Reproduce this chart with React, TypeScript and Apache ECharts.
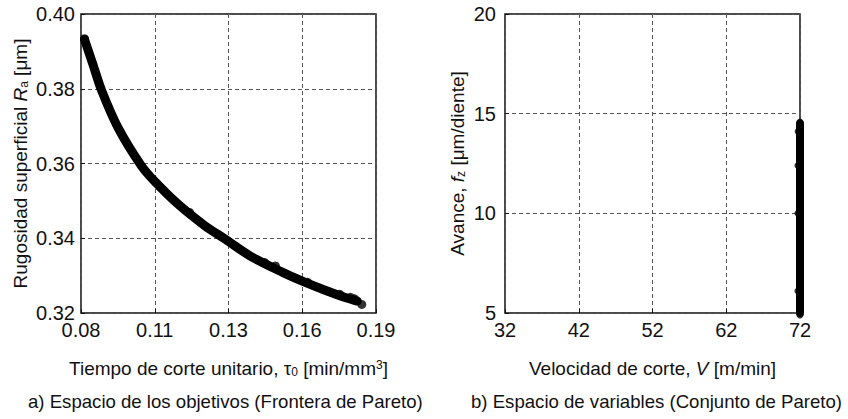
import React, { useEffect, useRef } from "react";
import * as echarts from "echarts";

// Left panel: Pareto front (objective space)
const paretoTau = [0.0813, 0.0845, 0.0876, 0.0938, 0.1025, 0.1075, 0.1162, 0.1261, 0.1337, 0.1430, 0.1554, 0.1623, 0.1703, 0.1791, 0.1830];
const paretoRa = [0.3932, 0.3864, 0.3797, 0.3696, 0.3594, 0.3552, 0.3491, 0.3434, 0.3398, 0.3353, 0.3308, 0.3286, 0.3263, 0.3240, 0.3232];
const paretoDotTau = [0.0813, 0.1205, 0.1485, 0.1525, 0.1645, 0.1765, 0.1805, 0.1820, 0.1847];
const paretoDotRa = [0.3934, 0.3469, 0.3335, 0.3326, 0.3282, 0.3250, 0.3242, 0.3238, 0.3223];
const tauTickLabels = ["0.08", "0.11", "0.13", "0.16", "0.19"];

// Right panel: Pareto set (variable space)
const setV = [72, 72, 72, 72, 72];
const setF = [5.0, 7.5, 10.0, 12.5, 14.5];
const setOutV = [71.72, 71.72, 71.72, 71.75, 72.0, 72.0];
const setOutF = [6.1, 10.0, 12.4, 14.1, 14.58, 4.9];

const FONT = "'Liberation Sans', Arial, sans-serif";

export default function App() {
  const ref = useRef<HTMLDivElement>(null);
  useEffect(() => {
    if (!ref.current) return;
    const chart = echarts.init(ref.current, null, { renderer: "svg" });
    const rich = {
      n: { fontFamily: FONT, fontSize: 19, color: "#111" },
      i: { fontFamily: FONT, fontSize: 19, fontStyle: "italic", color: "#111" },
      sub: { fontFamily: FONT, fontSize: 12, color: "#111", verticalAlign: "bottom", padding: [7, 0, 0, 0] },
      sup: { fontFamily: FONT, fontSize: 12, color: "#111", verticalAlign: "top", padding: [0, 0, 7, 0] },
    };
    const split = { show: true, lineStyle: { color: "#555", type: [4, 3], width: 1 } };
    const tick = { show: true, inside: true, length: 4, lineStyle: { color: "#111" } };
    const lbl = { fontFamily: FONT, fontSize: 20, color: "#111" };
    chart.setOption({
      animation: false,
      backgroundColor: "#fff",
      grid: [
        { left: 81, top: 14, width: 295, height: 299, show: true, borderColor: "#111", borderWidth: 1.5, backgroundColor: "transparent" },
        { left: 505, top: 14, width: 295, height: 299, show: true, borderColor: "#111", borderWidth: 1.5, backgroundColor: "transparent" },
      ],
      xAxis: [
        {
          type: "value", gridIndex: 0, min: 0.08, max: 0.19, interval: 0.0275,
          axisLine: { show: false }, axisTick: tick, splitLine: split,
          axisLabel: { ...lbl, margin: 7, formatter: (v: number) => tauTickLabels[Math.round((v - 0.08) / 0.0275)] ?? "" },
          name: "{n|Tiempo de corte unitario, τ}{sub|0}{n| [min/mm}{sup|3}{n|]}",
          nameLocation: "middle", nameGap: 46, nameTextStyle: { rich },
        },
        {
          type: "value", gridIndex: 1, min: 32, max: 72, interval: 10,
          axisLine: { show: false }, axisTick: tick, splitLine: split,
          axisLabel: { ...lbl, margin: 7 },
          name: "{n|Velocidad de corte, }{i|V}{n| [m/min]}",
          nameLocation: "middle", nameGap: 46, nameTextStyle: { rich },
        },
      ],
      yAxis: [
        {
          type: "value", gridIndex: 0, min: 0.32, max: 0.40, interval: 0.02,
          axisLine: { show: false }, axisTick: tick, splitLine: split,
          axisLabel: { ...lbl, margin: 6, formatter: (v: number) => v.toFixed(2) },
          name: "{n|Rugosidad superficial }{i|R}{sub|a}{n| [μm]}",
          nameLocation: "middle", nameGap: 51, nameTextStyle: { rich },
        },
        {
          type: "value", gridIndex: 1, min: 5, max: 20, interval: 5,
          axisLine: { show: false }, axisTick: tick, splitLine: split,
          axisLabel: { ...lbl, margin: 9 },
          name: "{n|Avance, }{i|f}{sub|z}{n| [μm/diente]}",
          nameLocation: "middle", nameGap: 38, nameTextStyle: { rich },
        },
      ],
      series: [
        {
          type: "line", xAxisIndex: 0, yAxisIndex: 0, clip: false, smooth: 0.3,
          data: paretoTau.map((t, k) => [t, paretoRa[k]]),
          showSymbol: false,
          lineStyle: { color: "#000", width: 9, cap: "round", join: "round" },
        },
        {
          type: "scatter", xAxisIndex: 0, yAxisIndex: 0, clip: false,
          data: paretoDotTau.map((t, k) => [t, paretoDotRa[k]]),
          symbolSize: 9, itemStyle: { color: "#000" },
        },
        {
          type: "line", xAxisIndex: 1, yAxisIndex: 1, clip: false,
          data: setV.map((v, k) => [v, setF[k]]),
          showSymbol: false,
          lineStyle: { color: "#000", width: 8, cap: "round" },
        },
        {
          type: "scatter", xAxisIndex: 1, yAxisIndex: 1, clip: false,
          data: setOutV.map((v, k) => [v, setOutF[k]]),
          symbolSize: 7, itemStyle: { color: "#000" },
        },
      ],
      graphic: [
        { type: "text", left: 28, top: 392, style: { text: "a) Espacio de los objetivos (Frontera de Pareto)", font: `18.6px ${FONT}`, fill: "#111" } },
        { type: "text", left: 471, top: 392, style: { text: "b) Espacio de variables (Conjunto de Pareto)", font: `18.6px ${FONT}`, fill: "#111" } },
      ],
    });
    return () => chart.dispose();
  }, []);
  return <div ref={ref} style={{ position: "fixed", left: 0, top: 0, width: 848, height: 419 }} />;
}
